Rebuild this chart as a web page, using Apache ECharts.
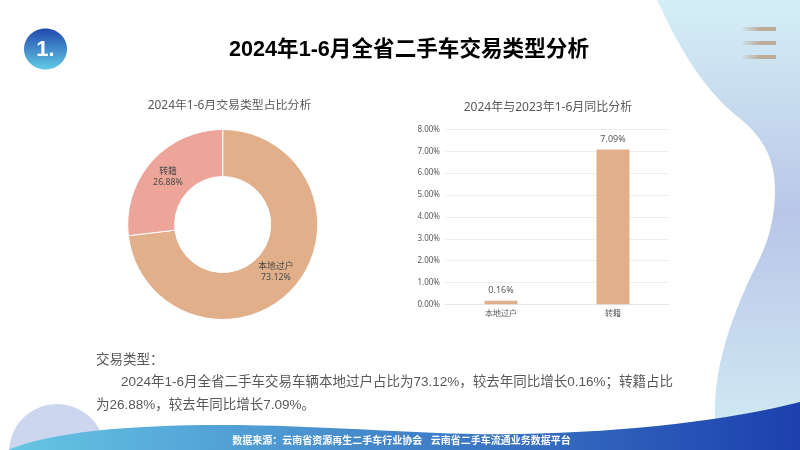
<!DOCTYPE html>
<html>
<head>
<meta charset="utf-8">
<title>2024年1-6月全省二手车交易类型分析</title>
<script src="https://cdn.jsdelivr.net/npm/echarts@6/dist/echarts.min.js"></script>
<style>
html,body{margin:0;padding:0;background:#fff;}
#main{width:800px;height:450px;}
</style>
</head>
<body>
<div id="main"></div>
<script>
// chart data
const shareNames = ['本地过户', '转籍'];
const shareValues = [73.12, 26.88];
const growthCategories = ['本地过户', '转籍'];
const growthValues = [0.16, 7.09];

const pageTitle = '2024年1-6月全省二手车交易类型分析';
const pieTitle = '2024年1-6月交易类型占比分析';
const barTitle = '2024年与2023年1-6月同比分析';
const bodyLines = [
    '交易类型：',
    '2024年1-6月全省二手车交易车辆本地过户占比为73.12%，较去年同比增长0.16%；转籍占比',
    '为26.88%，较去年同比增长7.09%。'
];
const sourceText = '数据来源：云南省资源再生二手车行业协会   云南省二手车流通业务数据平台';

const fontCn = '"Liberation Sans","Noto Sans CJK SC",sans-serif';
const fontChart = '"Noto Sans","Noto Sans CJK SC",sans-serif';
const peach = '#e1af89';
const pink = '#eca598';
const pieLabelShift = [[-2.5,-2],[1,2]];//nudges for the inside labels

function pct(v){
    return v.toFixed(2) + '%';
}

// graphic component has no plain path type, so the two curved shapes get registered
echarts.graphic.registerShape('rightBlob', echarts.graphic.extendPath(
    'M657 0 C667 20 690 75 733 113 C755 130 775 150 775 190 C775 225 765 250 753 272 C735 310 715 360 715 410 L715 430 L800 430 L800 0 Z', {}));
echarts.graphic.registerShape('bottomBanner', echarts.graphic.extendPath(
    'M8 450 C50 432 130 425 220 425 C330 425 430 436 520 434 C630 432 730 420 800 402 L800 450 Z', {}));

// background shapes, title badge, body text
function decorations(){
    let items = [];
    //right blob
    items.push({
        type:'rightBlob', z:0, silent:true,
        style:{fill:{type:'linear',x:0,y:0,x2:0,y2:1,colorStops:[
            {offset:0,color:'#d4eff6'},
            {offset:0.5,color:'#b9c6e8'},
            {offset:1,color:'#d0e9f3'}
        ]}}
    });
    //lower left circle
    items.push({
        type:'circle', z:0, silent:true,
        shape:{cx:57, cy:452, r:48},
        style:{fill:'#cdd6ef'}
    });
    //bottom banner
    items.push({
        type:'bottomBanner', z:1, silent:true,
        style:{fill:{type:'linear',x:0,y:0,x2:1,y2:0,colorStops:[
            {offset:0,color:'#66c6e4'},
            {offset:1,color:'#1c40ae'}
        ]}}
    });
    //menu lines top right
    [29,43,57].forEach((y)=>{
        items.push({
            type:'rect', z:2, silent:true,
            shape:{x:742, y:y-2, width:34, height:4},
            style:{fill:{type:'linear',x:0,y:0,x2:1,y2:0,colorStops:[
                {offset:0,color:'rgba(188,171,152,0.1)'},
                {offset:0.55,color:'#bcab98'},
                {offset:1,color:'#bcab98'}
            ]}}
        });
    });
    //number badge
    items.push({
        type:'ellipse', z:2, silent:true,
        shape:{cx:45.5, cy:49, rx:21.5, ry:20.5},
        style:{fill:{type:'linear',x:0,y:0,x2:0,y2:1,colorStops:[
            {offset:0,color:'#2248ae'},
            {offset:1,color:'#62cbe6'}
        ]}}
    });
    items.push({
        type:'text', z:3, silent:true, x:45.5, y:50,
        style:{text:'1.', fill:'#fff', font:'bold 22px '+fontCn, align:'center', verticalAlign:'middle'}
    });
    items.push({
        type:'text', z:3, silent:true, x:409, y:50,
        style:{text:pageTitle, fill:'#000', font:'bold 21.6px '+fontCn, align:'center', verticalAlign:'middle'}
    });
    //body text
    let bodyPos = [[96,360],[121,382],[96,405]];
    bodyLines.forEach((line,i)=>{
        items.push({
            type:'text', z:3, silent:true, x:bodyPos[i][0], y:bodyPos[i][1],
            style:{text:line, fill:'#595959', font:'13.5px '+fontCn, align:'left', verticalAlign:'middle'}
        });
    });
    items.push({
        type:'text', z:3, silent:true, x:401.5, y:441.5,
        style:{text:sourceText, fill:'#fff', font:'bold 10px '+fontCn, align:'center', verticalAlign:'middle'}
    });
    return items;
}

let myChart = echarts.init(document.getElementById('main'), null, {renderer:'canvas'});

let pieData = shareNames.map((name,i)=>({name:name, value:shareValues[i], label:{offset:pieLabelShift[i]}}));

let option = {
    animation:false,
    backgroundColor:'#fff',
    title:[
        {text:pieTitle, left:224.5, top:101, textAlign:'center', textVerticalAlign:'middle',
            textStyle:{fontFamily:fontChart, fontSize:11.9, fontWeight:'normal', color:'#595959'}},
        {text:barTitle, left:543, top:103, textAlign:'center', textVerticalAlign:'middle',
            textStyle:{fontFamily:fontChart, fontSize:12, fontWeight:'normal', color:'#595959'}}
    ],
    grid:{left:445, right:131, top:129.5, bottom:145.7},
    xAxis:{
        type:'category',
        data:growthCategories,
        axisTick:{show:false},
        axisLine:{lineStyle:{color:'#e6e6e6'}},
        axisLabel:{color:'#595959', fontSize:8, fontFamily:fontChart, margin:5}
    },
    yAxis:{
        type:'value',
        min:0, max:8, interval:1,
        axisLine:{show:false},
        axisTick:{show:false},
        splitLine:{lineStyle:{color:'#eeeeee'}},
        axisLabel:{color:'#595959', fontSize:8, fontFamily:fontChart, margin:5, formatter:(v)=>pct(v)}
    },
    series:[
        {
            type:'pie',
            center:[222.7,224.5],
            radius:[48,95],
            startAngle:90,
            clockwise:true,
            data:pieData,
            color:[peach,pink],
            itemStyle:{borderColor:'#fff', borderWidth:1},
            label:{
                position:'inside',
                formatter:(p)=>p.name+'\n'+pct(p.value),
                color:'#4a4a4a',
                fontSize:8.8,
                lineHeight:10.5,
                fontFamily:fontChart
            },
            labelLine:{show:false},
            silent:true
        },
        {
            type:'bar',
            data:growthValues,
            barWidth:33,
            itemStyle:{color:peach},
            label:{
                show:true,
                position:'top',
                distance:5.5,
                color:'#595959',
                fontSize:9,
                fontFamily:fontChart,
                formatter:(p)=>pct(p.value)
            },
            silent:true
        }
    ],
    graphic:decorations()
};
myChart.setOption(option);
</script>
</body>
</html>
